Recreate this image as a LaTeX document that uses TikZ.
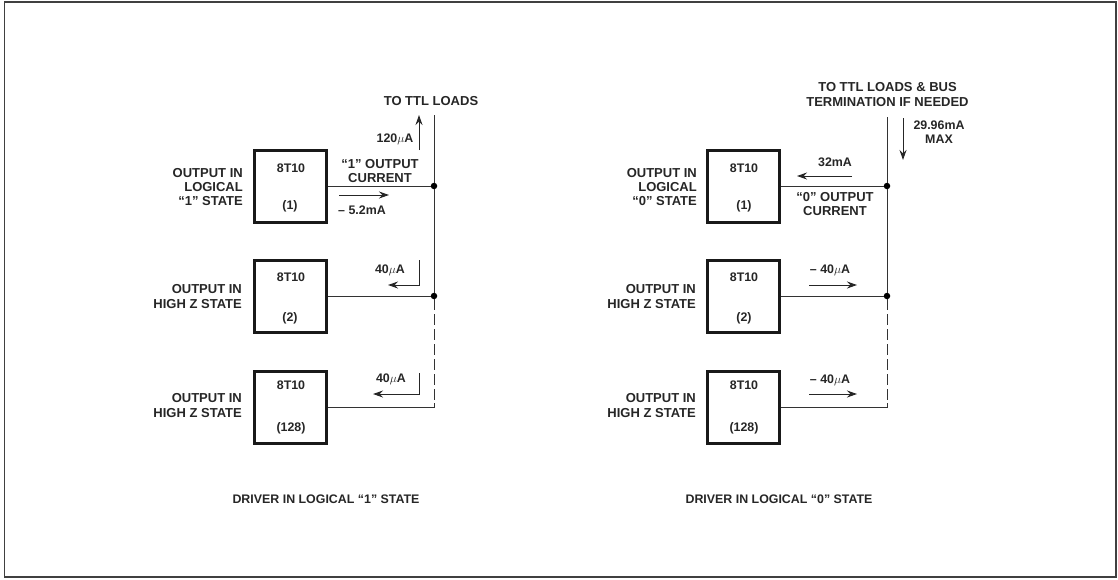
\documentclass[tikz,border=0pt]{standalone}
\usepackage{fontspec}
\setmainfont{Liberation Sans}
\usetikzlibrary{arrows.meta}
\newcommand{\um}{$\mu$}
\tikzset{
  x=1pt,y=-1pt,
  chip/.style={draw=black!90,line width=3pt,minimum width=72pt,minimum height=72pt,inner sep=0pt},
  wire/.style={draw=black!80,line width=1pt},
  flow/.style={draw=black!85,line width=1pt,-{Stealth[length=10pt,width=7pt]}},
  lab/.style={font=\fontsize{12.4}{14.2}\selectfont\bfseries,text=black!85,inner sep=0pt,align=center},
  bigl/.style={lab,font=\fontsize{13}{14.2}\selectfont\bfseries},
  labr/.style={bigl,align=right,anchor=east},
  dot/.style={circle,fill=black,inner sep=0pt,minimum size=6.5pt},
}
\begin{document}
\begin{tikzpicture}
\useasboundingbox (0,0) rectangle (1118,579);
\draw[black!75,line width=1.6pt] (4.5,2) rectangle (1116,577);
% left
\node[chip] (a1) at (290.5,186) {};
\node[chip] (a2) at (290.5,296) {};
\node[chip] (a3) at (290.5,407) {};
\node[lab] at (291,168) {8T10};
\node[lab] at (290,206) {(1)};
\node[lab] at (291,277) {8T10};
\node[lab] at (290,318) {(2)};
\node[lab] at (291,385) {8T10};
\node[lab] at (291,428) {(128)};
\node[dot] (j1) at (434,186) {};
\node[dot] (j2) at (434,296) {};
\coordinate (ltop) at (434,115);
\coordinate (lend) at (434,407);
\draw[wire] (a1.east) -- (j1);
\draw[wire] (a2.east) -- (j2);
\draw[wire] (ltop) -- (j1);
\draw[wire] (j1) -- (j2);
\draw[wire,dash pattern=on 11pt off 4pt] (j2) -- (lend);
\draw[wire] (a3.east) -- (lend) -- ++(0,-4);
\node[bigl] at (431,101) {TO TTL LOADS};
\node[labr] at (243,187) {OUTPUT IN\\LOGICAL\\``1'' STATE};
\node[labr] at (242,296.5) {OUTPUT IN\\HIGH Z STATE};
\node[labr] at (242,405.5) {OUTPUT IN\\HIGH Z STATE};
\node[bigl] at (380,171) {``1'' OUTPUT\\CURRENT};
\node[lab] (l120) at (395,139) {120\um A};
\node[lab] (l52) at (362,210) {-- 5.2mA};
\node[lab] (l40a) at (390,270) {40\um A};
\node[lab] (l40b) at (391,379) {40\um A};
\coordinate (p1a) at (419,150); \coordinate (p1b) at (419,115);
\draw[flow] (p1a) -- (p1b);
\coordinate (p2a) at (339,195); \coordinate (p2b) at (389,195);
\draw[flow] (p2a) -- (p2b);
\coordinate (p3a) at (419,260); \coordinate (p3b) at (388,285);
\draw[flow] (p3a) |- (p3b);
\coordinate (p4a) at (419,373); \coordinate (p4b) at (373,394);
\draw[flow] (p4a) |- (p4b);
\node[lab] at (326,499) {DRIVER IN LOGICAL ``1'' STATE};
% right
\node[chip] (b1) at (743.5,186) {};
\node[chip] (b2) at (743.5,296) {};
\node[chip] (b3) at (743.5,407) {};
\node[lab] at (744,168) {8T10};
\node[lab] at (744,206) {(1)};
\node[lab] at (744,277) {8T10};
\node[lab] at (744,318) {(2)};
\node[lab] at (744,385) {8T10};
\node[lab] at (744,428) {(128)};
\node[dot] (k1) at (887,186) {};
\node[dot] (k2) at (887,296) {};
\coordinate (rtop) at (887,117);
\coordinate (rend) at (887,407);
\draw[wire] (b1.east) -- (k1);
\draw[wire] (b2.east) -- (k2);
\draw[wire] (rtop) -- (k1);
\draw[wire] (k1) -- (k2);
\draw[wire,dash pattern=on 11pt off 4pt] (k2) -- (rend);
\draw[wire] (b3.east) -- (rend) -- ++(0,-4);
\node[bigl] at (887.5,94.5) {TO TTL LOADS \& BUS\\TERMINATION IF NEEDED};
\node[labr] at (697,187) {OUTPUT IN\\LOGICAL\\``0'' STATE};
\node[labr] at (696,296.5) {OUTPUT IN\\HIGH Z STATE};
\node[labr] at (696,405.5) {OUTPUT IN\\HIGH Z STATE};
\node[bigl] at (835,204) {``0'' OUTPUT\\CURRENT};
\node[lab] (r32) at (835,162) {32mA};
\node[lab] (r2996) at (939,132) {29.96mA\\MAX};
\node[lab] (r40a) at (830,270) {-- 40\um A};
\node[lab] (r40b) at (830,380) {-- 40\um A};
\coordinate (q1a) at (903,118); \coordinate (q1b) at (903,160);
\draw[flow] (q1a) -- (q1b);
\coordinate (q2a) at (852,176); \coordinate (q2b) at (797,176);
\draw[flow] (q2a) -- (q2b);
\coordinate (q3a) at (809,285); \coordinate (q3b) at (857,285);
\draw[flow] (q3a) -- (q3b);
\coordinate (q4a) at (809,394); \coordinate (q4b) at (857,394);
\draw[flow] (q4a) -- (q4b);
\node[lab] at (779,499) {DRIVER IN LOGICAL ``0'' STATE};
\end{tikzpicture}
\end{document}
